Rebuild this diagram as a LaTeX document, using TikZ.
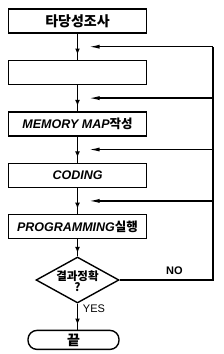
\documentclass[tikz,border=0pt]{standalone}
\usepackage{fontspec}
\setmainfont{Liberation Sans}
\newfontfamily\krfont{Noto Sans CJK KR}
\usetikzlibrary{positioning,arrows.meta,shapes.geometric,calc,decorations.markings}
\newcommand{\kr}[1]{{\krfont\bfseries #1}}
\newcommand{\lt}[1]{{\bfseries\itshape #1}}

\begin{document}
\begin{tikzpicture}[x=1pt,y=-1pt,line width=1.4pt,node distance=26pt,
  stepbox/.style={draw, minimum width=138pt, minimum height=24pt, inner sep=1pt, font=\fontsize{12.5}{13}\selectfont},
  flow/.style={postaction={decorate}, decoration={markings, mark=at position 0.8 with {\arrow{Latex[length=6pt,width=5pt]}}}},
  back/.style={-{Latex[length=11pt,width=4pt]}}]
  \useasboundingbox (0,0) rectangle (224,354);
  % main steps
  \node[stepbox] (survey) at (77.5,21) {\kr{\fontsize{14}{14}\selectfont 타당성조사}};
  \node[stepbox, below=of survey] (blank) {};
  \node[stepbox, below=of blank] (memmap) {\lt{MEMORY MAP}\kr{작성}};
  \node[stepbox, below=of memmap] (coding) {\lt{CODING}};
  \node[stepbox, below=of coding] (prog) {\lt{PROGRAMMING}\kr{실행}};
  \node[draw, diamond, minimum width=83pt, minimum height=46pt, inner sep=0pt,
    below=17pt of prog] (check) {};
  \node[align=center, inner sep=0pt, font=\fontsize{11.5}{10}\selectfont, yshift=-1pt]
    (checktext) at (check.center) {\kr{결과정확}\\\kr{?}};
  \node[draw, rounded corners=9pt, minimum width=91pt, minimum height=19pt, inner sep=0pt,
    font=\fontsize{14}{14}\selectfont, below=26pt of check, xshift=-4pt] (end) {\kr{끝}};
  % forward flow
  \draw[flow] (survey) -- (blank);
  \draw[flow] (blank) -- (memmap);
  \draw[flow] (memmap) -- (coding);
  \draw[flow] (coding) -- (prog);
  \draw[flow] (prog) -- (check);
  \draw[flow] (check.south) -- (check.south |- end.north);
  \node[font=\fontsize{11}{11}\selectfont] (yes) at (94,309) {YES};
  % feedback loop
  \coordinate (loop) at (213,0);
  \coordinate (m1) at ($(survey.south)!0.5!(blank.north)$);
  \coordinate (m2) at ($(blank.south)!0.5!(memmap.north)$);
  \coordinate (m3) at ($(memmap.south)!0.5!(coding.north)$);
  \coordinate (m4) at ($(coding.south)!0.5!(prog.north)$);
  \draw (check.east) -- (check.east -| loop) -- (m1 -| loop);
  \node[font=\bfseries\fontsize{11}{11}\selectfont, above=1pt] (no) at ($(check.east -| loop)!0.5!(check.east) + (8,0)$) {NO};
  \foreach \m in {m1,m2,m3,m4}
    \draw[back] (\m -| loop) -- ([xshift=11pt]\m);
\end{tikzpicture}
\end{document}
